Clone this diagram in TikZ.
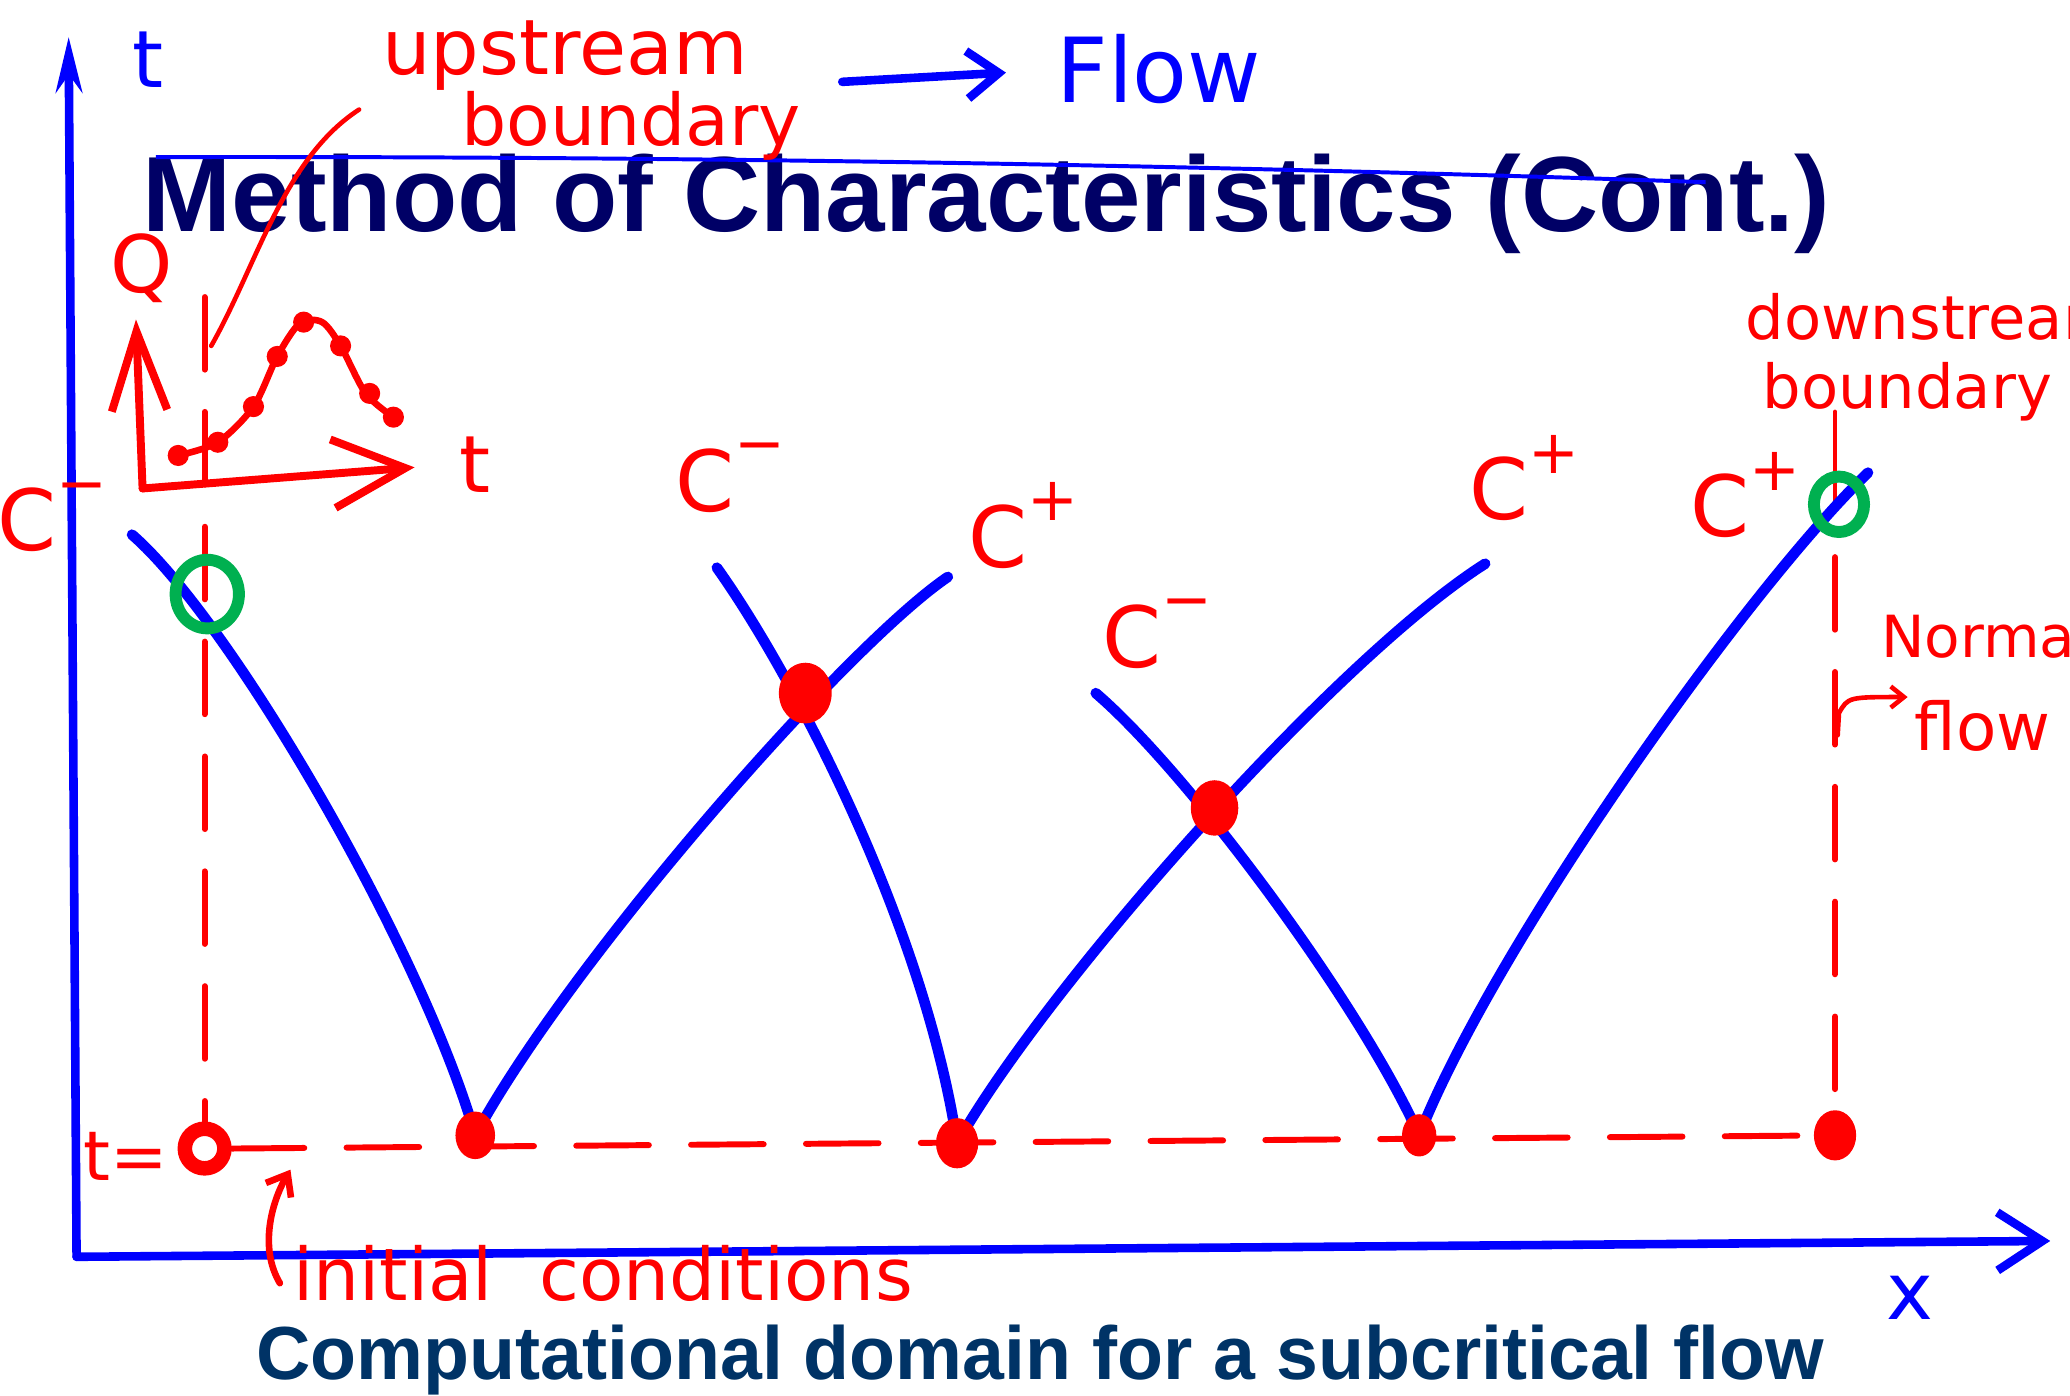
\documentclass[tikz,border=0pt]{standalone}
\usepackage{fontspec}
\setmainfont{Liberation Sans}
\newfontfamily\hand{DejaVu Sans}
\usetikzlibrary{arrows.meta,shapes.geometric}

\definecolor{titlenavy}{HTML}{000066}
\definecolor{capblue}{HTML}{003366}
\definecolor{ringgreen}{HTML}{00B050}
\definecolor{penred}{HTML}{FF0000}
\definecolor{penblue}{HTML}{0000FF}

\newcommand{\charlab}[1]{C\raisebox{.55em}{\fontsize{46}{46}\selectfont#1}}

\tikzset{
  char/.style={penblue, line width=8pt, line cap=round, line join=round},
  axis/.style={penblue, line width=6.5pt, line cap=round, line join=round},
  pen/.style={penred, line width=5pt, line cap=round, line join=round},
  guide/.style={penred, line width=4.5pt, line cap=round, dash pattern=on 55pt off 32pt},
  knot/.style={ellipse, fill=penred, inner sep=0pt, minimum width=#1, minimum height=#1+6pt},
  ring/.style={ellipse, draw=ringgreen, line width=9pt, inner sep=0pt, minimum width=#1, minimum height=#1+4pt},
  bluehand/.style={text=penblue, font=\hand\fontsize{60}{60}\selectfont, inner sep=0pt},
  redhand/.style={text=penred, font=\hand\fontsize{#1}{#1}\selectfont, inner sep=0pt},
  clab/.style={text=penred, font=\hand\fontsize{64}{64}\selectfont, inner sep=0pt},
}

\begin{document}
\begin{tikzpicture}[x=1pt, y=-1pt]
  \useasboundingbox (0,0) rectangle (1568,1057);
  \clip (0,0) rectangle (1568,1057);

  % Title and caption
  \node[text=titlenavy, font=\bfseries\fontsize{81}{81}\selectfont, anchor=base west, inner sep=0pt] (title) at (108,175) {Method of Characteristics (Cont.)};
  \node[text=capblue, font=\bfseries\fontsize{57}{57}\selectfont, anchor=base, inner sep=0pt] (caption) at (788,1045) {Computational domain for a subcritical flow};
  \draw[penblue, line width=3pt] (118,119) .. controls (600,118) and (1000,128) .. (1292,138);

  % Axes
  \coordinate (O) at (58,952);
  \coordinate (ttip) at (52,28);
  \coordinate (xtip) at (1553,940);
  \draw[axis, -{Stealth[length=42pt,width=20pt]}] (O) -- (ttip);
  \draw[axis, -{Straight Barb[length=34pt,width=44pt]}] (O) -- (xtip);
  \node[bluehand] (tname) at (112,45) {t};
  \node[bluehand] (xname) at (1447,983) {x};

  % Flow direction
  \coordinate (flowtail) at (638,62);
  \coordinate (flowhead) at (762,55);
  \node[bluehand, font=\hand\fontsize{68}{68}\selectfont, anchor=west] (flow) at (800,52) {Flow};
  \draw[axis, -{Straight Barb[length=24pt,width=36pt]}] (flowtail) -- (flowhead);

  % Boundary labels
  \node[redhand=58] (upname) at (428,42) {upstream};
  \node[redhand=54] (upbound) at (478,95) {boundary};
  \coordinate (uplead) at (272,83);
  \draw[pen, line width=3.5pt] (uplead) .. controls (215,120) and (195,200) .. (160,262);
  \node[redhand=46, anchor=west] (downname) at (1322,240) {downstream};
  \node[redhand=46, anchor=west] (downbound) at (1335,297) {boundary};
  \node[redhand=44, anchor=west] (normname) at (1425,482) {Normal};
  \node[redhand=50, anchor=west] (flowname) at (1450,550) {flow};
  \coordinate (normtail) at (1392,557);
  \coordinate (normhead) at (1445,528);
  \draw[pen, line width=3.5pt, -{Straight Barb[length=10pt,width=16pt]}] (normtail) -- (1393,540) .. controls (1400,528) .. (normhead);

  % Q-t inset
  \coordinate (qo) at (108,370);
  \coordinate (qtop) at (103,242);
  \coordinate (qright) at (314,354);
  \draw[pen, line width=6pt, -{Straight Barb[length=60pt,width=42pt]}] (qo) -- (qtop);
  \draw[pen, line width=6pt, -{Straight Barb[length=55pt,width=52pt]}] (qo) -- (qright);
  \node[redhand=60] (qname) at (107,203) {Q};
  \node[redhand=60] (tname2) at (360,352) {t};
  \draw[pen] plot[smooth] coordinates {(135,345) (165,335) (192,308) (210,270) (227,245) (244,244) (258,262) (277,298) (298,316)};
  \foreach \px/\py in {135/345, 165/335, 192/308, 210/270, 230/244, 258/262, 280/298, 298/316}
    \fill[penred] (\px,\py) circle (8pt);

  % Initial line t = 0
  \node[redhand=52] (tzero) at (95,876) {t=};
  \node[circle, draw=penred, line width=11pt, minimum size=30pt, inner sep=0pt] (zero) at (155,870) {};
  \node[redhand=55, anchor=base west] (icname) at (222,985) {initial\ \ conditions};
  \coordinate (ictail) at (212,972);
  \coordinate (ichead) at (220,886);
  \draw[pen, -{Straight Barb[length=14pt,width=22pt]}] (ictail) .. controls (196,945) and (206,910) .. (ichead);

  % Characteristic grid points
  \coordinate (p1) at (360,860);
  \coordinate (p2) at (725,866);
  \coordinate (p3) at (1075,860);
  \coordinate (pe) at (1390,860);
  \coordinate (q1) at (610,525);
  \coordinate (q2) at (920,612);
  \coordinate (a1) at (100,405);
  \coordinate (a2) at (718,437);
  \coordinate (a3) at (543,430);
  \coordinate (a4) at (1125,427);
  \coordinate (a5) at (830,525);
  \coordinate (a6) at (1415,358);

  % Boundaries
  \draw[guide] (155,225) -- (zero);
  \draw[guide] (zero.east) -- (pe);
  \draw[pen, line width=3.5pt] (1390,312) -- (1390,382);
  \draw[guide] (1390,422) -- (pe);

  % Characteristics
  \draw[char] (a1) .. controls (175,470) and (320,720) .. (p1);
  \draw[char] (p1) .. controls (430,730) and (640,490) .. (a2);
  \draw[char] (a3) .. controls (600,510) and (700,700) .. (p2);
  \draw[char] (p2) .. controls (790,750) and (1010,500) .. (a4);
  \draw[char] (a5) .. controls (900,585) and (1030,760) .. (p3);
  \draw[char] (p3) .. controls (1130,720) and (1320,450) .. (a6);

  \node[clab] (cm1) at (40,392) {\charlab{−}};
  \node[clab] (cm2) at (553,362) {\charlab{−}};
  \node[clab] (cp1) at (775,398) {\charlab{+}};
  \node[clab] (cm3) at (877,480) {\charlab{−}};
  \node[clab] (cp2) at (1155,362) {\charlab{+}};
  \node[clab] (cp3) at (1322,375) {\charlab{+}};

  % Points
  \node[knot=40pt] (k1) at (q1) {};
  \node[knot=36pt] (k2) at (q2) {};
  \node[knot=30pt] (k3) at (p1) {};
  \node[knot=32pt] (k4) at (p2) {};
  \node[knot=26pt] (k5) at (p3) {};
  \node[knot=32pt] (k6) at (pe) {};
  \node[ring=48pt] (r1) at (157,450) {};
  \node[ring=38pt] (r2) at (1393,382) {};
\end{tikzpicture}
\end{document}
